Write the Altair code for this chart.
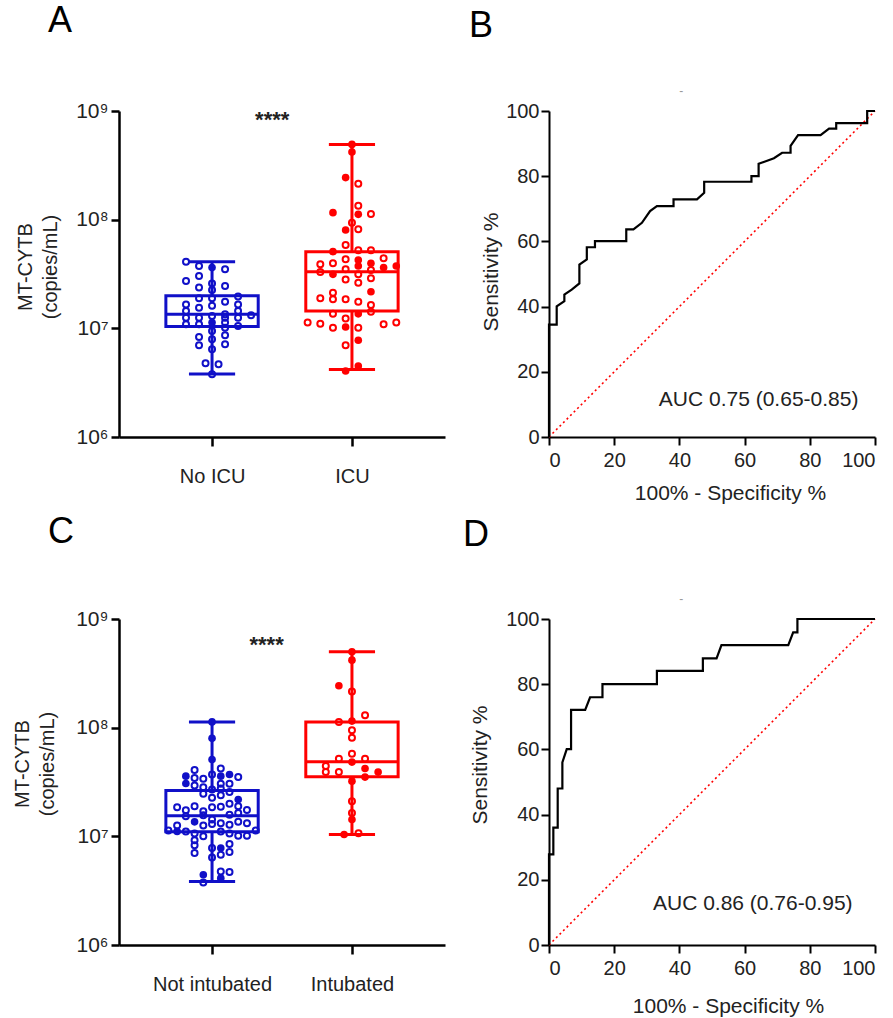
import altair as alt
import pandas as pd

FONT = "Liberation Sans"
BLUE = "#1010c8"
RED = "#ff0000"

# ---------------- Panel A : MT-CYTB, No ICU vs ICU ----------------
A_GROUPS = ["No ICU", "ICU"]
A_NOICU_VALUES = [4.10e7, 3.75e7, 3.62e7, 3.49e7, 2.73e7, 3.03e7, 2.59e7, 2.45e7, 2.37e7, 2.25e7,
                  1.89e7, 1.89e7, 1.96e7, 1.66e7, 1.61e7, 1.76e7, 1.66e7, 1.55e7, 1.44e7, 1.44e7,
                  1.30e7, 1.35e7, 1.32e7, 1.25e7, 1.25e7, 1.25e7, 1.25e7, 1.09e7, 1.09e7, 1.13e7,
                  1.13e7, 1.05e7, 1.01e7, 9.45e6, 8.32e6, 8.62e6, 7.92e6, 6.98e6, 7.13e6, 6.41e6,
                  4.77e6, 4.67e6, 3.77e6]
A_NOICU_SLOTS = [-2, -1, 0, 1, -2, -1, 0, 1, -1, 0,
                 -1, 0, 2, -2, 0, 1, 2, -1, -2, 2,
                 0, 1, 3, -2, -1, 1, 2, -2, -1, 0,
                 1, 2, 1, 0, -1, 1, 0, -1, 1, 0,
                 -0.5, 0.5, 0]
A_NOICU_FILLED = [0, 0, 1, 0, 0, 0, 0, 0, 0, 0,
                  0, 0, 0, 0, 0, 0, 0, 0, 0, 0,
                  0, 0, 0, 0, 0, 0, 0, 0, 0, 1,
                  0, 0, 0, 0, 0, 0, 0, 0, 0, 0,
                  0, 0, 0]
A_ICU_VALUES = [4.93e8, 4.19e8, 2.44e8, 2.14e8, 1.34e8, 1.16e8, 1.12e8, 1.13e8, 9.38e7, 8.03e7,
                8.15e7, 5.85e7, 5.08e7, 5.22e7, 5.22e7, 4.32e7, 4.26e7, 4.41e7, 3.88e7, 3.97e7,
                3.97e7, 3.75e7, 3.62e7, 3.75e7, 3.49e7, 3.44e7, 3.30e7, 3.14e7, 3.14e7, 2.82e7,
                2.89e7, 2.63e7, 2.17e7, 2.13e7, 1.89e7, 1.85e7, 1.85e7, 1.76e7, 1.64e7, 1.42e7,
                1.36e7, 1.36e7, 1.23e7, 1.13e7, 1.10e7, 1.03e7, 1.01e7, 1.01e7, 1.09e7, 1.13e7,
                7.76e6, 6.98e6, 4.50e6, 4.05e6]
A_ICU_SLOTS = [0, 0, -0.5, 0.5, 0.5, -1.5, 0.5, 1.5, 0, -0.5,
               0.5, -0.5, -1.5, 0.5, 1.5, -0.5, 0.5, 2.5, -2.5, -1.5,
               1.5, 0.5, 2.5, 3.5, -0.5, 1.5, -2.5, -1.5, 0.5, -0.5,
               1.5, 0.5, 1.5, -1.5, -2.5, -1.5, -0.5, 0.5, 1.5, 1.5,
               -1.5, 0.5, -0.5, -3.5, -2.5, -0.5, -1.5, 0.5, 2.5, 3.5,
               0.5, -0.5, 0.5, -0.5]
A_ICU_FILLED = [1, 1, 1, 0, 0, 1, 1, 0, 0, 1,
                0, 0, 1, 0, 0, 0, 1, 0, 0, 0,
                1, 1, 1, 1, 0, 0, 0, 1, 0, 0,
                0, 0, 1, 0, 0, 0, 0, 0, 0, 0,
                0, 1, 0, 0, 0, 1, 0, 0, 0, 0,
                1, 0, 1, 1]
# box summaries: min, Q1, median, Q3, max
A_NOICU_BOX = [3.8e6, 1.04e7, 1.35e7, 1.99e7, 4.1e7]
A_ICU_BOX = [4.17e6, 1.44e7, 3.32e7, 5.08e7, 4.93e8]
A_STARS = "****"

# ---------------- Panel C : MT-CYTB, Not intubated vs Intubated ----------------
C_GROUPS = ["Not intubated", "Intubated"]
C_NOT_VALUES = [1.13e8, 7.97e7, 5.10e7, 4.07e7, 4.21e7, 3.58e7, 3.45e7, 3.38e7, 3.71e7, 3.58e7,
                3.71e7, 3.51e7, 3.06e7, 2.94e7, 2.83e7, 3.04e7, 3.04e7, 2.70e7, 2.75e7, 2.46e7,
                2.56e7, 2.26e7, 2.39e7, 2.18e7, 1.85e7, 1.74e7, 1.89e7, 1.70e7, 1.85e7, 1.87e7,
                1.99e7, 1.89e7, 1.75e7, 1.53e7, 1.56e7, 1.58e7, 1.64e7, 1.36e7, 1.43e7, 1.32e7,
                1.36e7, 1.32e7, 1.13e7, 1.11e7, 1.26e7, 1.11e7, 1.26e7, 1.30e7, 1.28e7, 1.13e7,
                1.06e7, 1.00e7, 1.11e7, 1.06e7, 1.01e7, 1.01e7, 9.18e6, 8.26e6, 7.02e6, 7.80e6,
                7.80e6, 8.49e6, 7.16e6, 6.77e6, 6.40e6, 4.43e6, 4.75e6, 4.69e6, 4.12e6, 3.76e6]
C_NOT_SLOTS = [0, 0, 0, -2, 1, -3, -2, -1, 0, 1,
               2, 3, -3, -2, -1, 1, 2, 0, 1, -1,
               2, 0, 1, 3, -4, -3, -2, -1, 0, 1,
               2, 3, 4, -3, -1, 2, 3, -2, 0, 1,
               3, 4, -5, -4, -4, -3, -1, 0, 2, 5,
               -2, -1, 1, 2, 3, 4, -2, -2, -2, 0,
               1, 2, 2, 1, 0, -1, 1, 2, 1, -1]
C_NOT_FILLED = [1, 1, 1, 0, 0, 1, 0, 0, 0, 1,
                1, 0, 1, 0, 0, 0, 0, 0, 0, 0,
                0, 0, 0, 1, 0, 0, 0, 0, 0, 0,
                0, 0, 0, 0, 0, 0, 0, 1, 0, 0,
                0, 0, 0, 1, 0, 0, 0, 0, 0, 0,
                0, 0, 0, 0, 0, 0, 0, 0, 0, 0,
                1, 0, 0, 0, 0, 1, 0, 0, 1, 0]
C_INT_VALUES = [4.99e8, 4.18e8, 2.43e8, 2.15e8, 1.30e8, 1.13e8, 1.15e8, 9.45e7, 8.09e7, 5.75e7,
                5.18e7, 5.18e7, 4.82e7, 4.43e7, 4.21e7, 3.90e7, 3.90e7, 3.90e7, 3.51e7, 3.22e7,
                2.10e7, 1.64e7, 1.43e7, 1.04e7, 1.07e7]
C_INT_SLOTS = [0, 0, -1, 0, 1, -1, 0, 0, 0, 0,
               -1, 1, 0, -2, 1, -2, -1, 2, 1, 0,
               0, 0, 0, -0.6, 0.5]
C_INT_FILLED = [1, 1, 1, 0, 0, 0, 1, 0, 0, 0,
                0, 0, 1, 0, 1, 0, 0, 1, 1, 1,
                0, 0, 1, 1, 0]
C_NOT_BOX = [3.84e6, 1.10e7, 1.55e7, 2.64e7, 1.13e8]
C_INT_BOX = [1.04e7, 3.53e7, 4.85e7, 1.13e8, 4.99e8]
C_STARS = "****"

# ---------------- Panel B : ROC, ICU ----------------
B_ROC_X = [0, 0, 2.36, 2.36, 4.71, 4.71, 6.97, 9.32, 9.32, 11.6, 11.6, 14.1, 14.1, 23.7, 23.7,
           25.9, 28.5, 31.0, 33.1, 38.2, 38.2, 45.4, 47.6, 47.6, 62.1, 62.1, 64.3, 64.3, 69.0,
           71.5, 74.1, 74.1, 76.4, 83.3, 85.9, 88.1, 88.1, 97.6, 97.6, 100]
B_ROC_Y = [0, 34.5, 34.5, 40.1, 41.7, 43.7, 45.2, 47.1, 52.9, 54.5, 58.2, 58.2, 60.1, 60.1, 63.7,
           63.7, 65.7, 69.3, 70.8, 70.8, 72.9, 72.9, 74.9, 78.3, 78.3, 80.0, 80.0, 83.8, 85.5,
           87.2, 87.2, 89.3, 92.6, 92.6, 94.6, 94.6, 96.3, 96.3, 100, 100]
B_AUC = "AUC 0.75 (0.65-0.85)"

# ---------------- Panel D : ROC, intubation ----------------
D_ROC_X = [0, 0, 1.33, 1.33, 2.67, 2.67, 4.10, 4.10, 5.44, 6.77, 6.77, 11.1, 12.6, 16.4, 16.4,
           33.1, 33.1, 47.2, 47.2, 51.4, 52.9, 73.4, 74.9, 76.2, 76.2, 100]
D_ROC_Y = [0, 27.8, 27.8, 36.0, 36.0, 48.0, 48.0, 56.0, 60.1, 60.1, 72.1, 72.1, 76.0, 76.0, 80.0,
           80.0, 84.1, 84.1, 87.9, 87.9, 92.0, 92.0, 95.9, 95.9, 100, 100]
D_AUC = "AUC 0.86 (0.76-0.95)"

LOG_TICKS = [1e6, 1e7, 1e8, 1e9]
ROC_TICKS = [0, 20, 40, 60, 80, 100]
Y_TITLE_BOX = ["MT-CYTB", "(copies/mL)"]
Y_TITLE_ROC = "Sensitivity %"
X_TITLE_ROC = "100% - Specificity %"

W = 326
H = 326


def letter_title(letter, dx, offset):
    return alt.TitleParams(text=letter, anchor="start", frame="group", dx=dx, offset=offset,
                           fontSize=36, font=FONT, fontWeight="normal", color="black",
                           baseline="alphabetic")


def box_panel(letter, groups, series, boxes, stars, star_xy, title_dx, title_off, ytx, yty):
    rows = []
    for gi, (vals, slots, filled, step, color) in enumerate(series, start=1):
        for v, s, f in zip(vals, slots, filled):
            rows.append({"x": gi + s * step, "value": v, "filled": f, "col": color})
    pts = pd.DataFrame(rows)
    bx = pd.DataFrame([{"g": i + 1, "lo": b[0], "q1": b[1], "med": b[2], "q3": b[3], "hi": b[4],
                        "col": c} for i, (b, c) in enumerate(boxes)])

    xscale = alt.Scale(domain=[0.335, 2.665], nice=False, zero=False)
    yscale = alt.Scale(type="log", domain=[1e6, 1e9], nice=False)
    xaxis = alt.Axis(values=[1, 2], title=None, grid=False,
                     labelExpr=f"datum.value < 1.5 ? '{groups[0]}' : '{groups[1]}'",
                     tickSize=9, tickWidth=2.5, domainWidth=2.5, labelPadding=20,
                     labelFontSize=20)
    yaxis = alt.Axis(values=LOG_TICKS, title=Y_TITLE_BOX, grid=False,
                     labelExpr="datum.value > 5e8 ? '10⁹' : datum.value > 5e7 ? '10⁸' : "
                               "datum.value > 5e6 ? '10⁷' : '10⁶'",
                     tickSize=8, tickWidth=2.5, domainWidth=2.5, labelPadding=3,
                     labelFontSize=21, titleFontSize=20, titleLineHeight=25,
                     titleAngle=270, titleAlign="center", titleBaseline="middle",
                     titleX=ytx, titleY=yty)
    X = lambda f: alt.X(f, type="quantitative", scale=xscale, axis=xaxis)
    Y = lambda f: alt.Y(f, type="quantitative", scale=yscale, axis=yaxis)
    stroke = alt.Color("col:N", scale=None, legend=None)

    base = alt.Chart(bx).transform_calculate(
        xl="datum.g - 0.33", xr="datum.g + 0.33", cl="datum.g - 0.165", cr="datum.g + 0.165")
    box = base.mark_rect(fill="white", fillOpacity=0, strokeWidth=3).encode(
        x=X("xl"), x2="xr:Q", y=Y("q1"), y2="q3:Q", stroke=stroke)
    med = base.mark_rule(strokeWidth=3).encode(x=X("xl"), x2="xr:Q", y=Y("med"), color=stroke)
    wlo = base.mark_rule(strokeWidth=3).encode(x=X("g"), y=Y("lo"), y2="q1:Q", color=stroke)
    whi = base.mark_rule(strokeWidth=3).encode(x=X("g"), y=Y("q3"), y2="hi:Q", color=stroke)
    clo = base.mark_rule(strokeWidth=3).encode(x=X("cl"), x2="cr:Q", y=Y("lo"), color=stroke)
    chi = base.mark_rule(strokeWidth=3).encode(x=X("cl"), x2="cr:Q", y=Y("hi"), color=stroke)

    p = alt.Chart(pts)
    open_pts = p.transform_filter("datum.filled == 0").mark_point(
        shape="circle", filled=False, size=36, strokeWidth=2, opacity=1).encode(
        x=X("x"), y=Y("value"), color=stroke)
    fill_pts = p.transform_filter("datum.filled == 1").mark_circle(size=58, opacity=1).encode(
        x=X("x"), y=Y("value"), color=stroke)

    st = alt.Chart(pd.DataFrame([{"x": star_xy[0], "y": star_xy[1], "t": stars}])).mark_text(
        font=FONT, fontSize=22, fontWeight="bold", color="#222", baseline="alphabetic").encode(
        x=X("x"), y=Y("y"), text="t:N")

    return alt.layer(box, wlo, whi, clo, chi, med, open_pts, fill_pts, st).properties(
        width=W, height=H, title=letter_title(letter, title_dx, title_off))


def roc_panel(letter, xs, ys, auc, auc_xy, dash_xy, title_dx, title_off, ytx, yty, xtx, xty):
    curve = pd.DataFrame({"fpr": xs, "tpr": ys, "i": list(range(len(xs)))})
    diag = pd.DataFrame({"fpr": [0, 100], "tpr": [0, 100]})
    sc = alt.Scale(domain=[0, 100], nice=False)
    xaxis = alt.Axis(values=ROC_TICKS, title=X_TITLE_ROC, grid=False, tickSize=8, tickWidth=2,
                     domainWidth=2, labelPadding=5, labelFontSize=20, titleFontSize=21,
                     titleAlign="center", titleBaseline="middle", titleX=xtx, titleY=xty)
    yaxis = alt.Axis(values=ROC_TICKS, title=Y_TITLE_ROC, grid=False, tickSize=8, tickWidth=2,
                     domainWidth=2, labelPadding=2, labelFontSize=20, titleFontSize=21,
                     titleAngle=270, titleAlign="center", titleBaseline="middle",
                     titleX=ytx, titleY=yty)
    X = lambda f: alt.X(f, type="quantitative", scale=sc, axis=xaxis)
    Y = lambda f: alt.Y(f, type="quantitative", scale=sc, axis=yaxis)

    d = alt.Chart(diag).mark_line(color=RED, strokeWidth=1.6, strokeDash=[2, 3]).encode(
        x=X("fpr"), y=Y("tpr"))
    c = alt.Chart(curve).mark_line(color="black", strokeWidth=2.2).encode(
        x=X("fpr"), y=Y("tpr"), order="i:Q")
    t = alt.Chart(pd.DataFrame([{"x": auc_xy[0], "y": auc_xy[1], "t": auc}])).mark_text(
        font=FONT, fontSize=21, color="#222", baseline="middle").encode(
        x=X("x"), y=Y("y"), text="t:N")
    dash = alt.Chart(pd.DataFrame([{"x": dash_xy[0], "y": dash_xy[1], "t": "-"}])).mark_text(
        font=FONT, fontSize=12, color="#999", baseline="middle").encode(
        x=X("x"), y=Y("y"), text="t:N")
    return alt.layer(d, c, t, dash).properties(
        width=W, height=H, title=letter_title(letter, title_dx, title_off))


panel_a = box_panel("A", A_GROUPS,
                    [(A_NOICU_VALUES, A_NOICU_SLOTS, A_NOICU_FILLED, 0.093, BLUE),
                     (A_ICU_VALUES, A_ICU_SLOTS, A_ICU_FILLED, 0.0905, RED)],
                    [(A_NOICU_BOX, BLUE), (A_ICU_BOX, RED)],
                    A_STARS, (1.43, 7.2e8), -71, 32.5, -94, 155.5)
panel_c = box_panel("C", C_GROUPS,
                    [(C_NOT_VALUES, C_NOT_SLOTS, C_NOT_FILLED, 0.0624, BLUE),
                     (C_INT_VALUES, C_INT_SLOTS, C_INT_FILLED, 0.0935, RED)],
                    [(C_NOT_BOX, BLUE), (C_INT_BOX, RED)],
                    C_STARS, (1.39, 5.0e8), -71, 29.5, -97, 144.5)
panel_b = roc_panel("B", B_ROC_X, B_ROC_Y, B_AUC, (64.3, 11.3), (40.6, 106),
                    -80, 12.5, -58, 160.5, 181, 56.5)
panel_d = roc_panel("D", D_ROC_X, D_ROC_Y, D_AUC, (62.5, 12.6), (40.6, 106),
                    -86, 11.5, -69, 145.5, 179, 61.5)

chart = alt.concat(panel_a, panel_b, panel_c, panel_d, columns=2, bounds="flush",
                   spacing={"row": 182, "column": 104}).properties(
    padding={"left": 12, "top": 2, "right": 0, "bottom": 0}
).configure_view(stroke=None).configure_axis(
    labelFont=FONT, titleFont=FONT, labelColor="#222", titleColor="#222",
    domainColor="black", tickColor="black", titleFontWeight="normal"
).configure_title(font=FONT)

chart.save("out.html", embed_options={"renderer": "svg", "actions": False})
